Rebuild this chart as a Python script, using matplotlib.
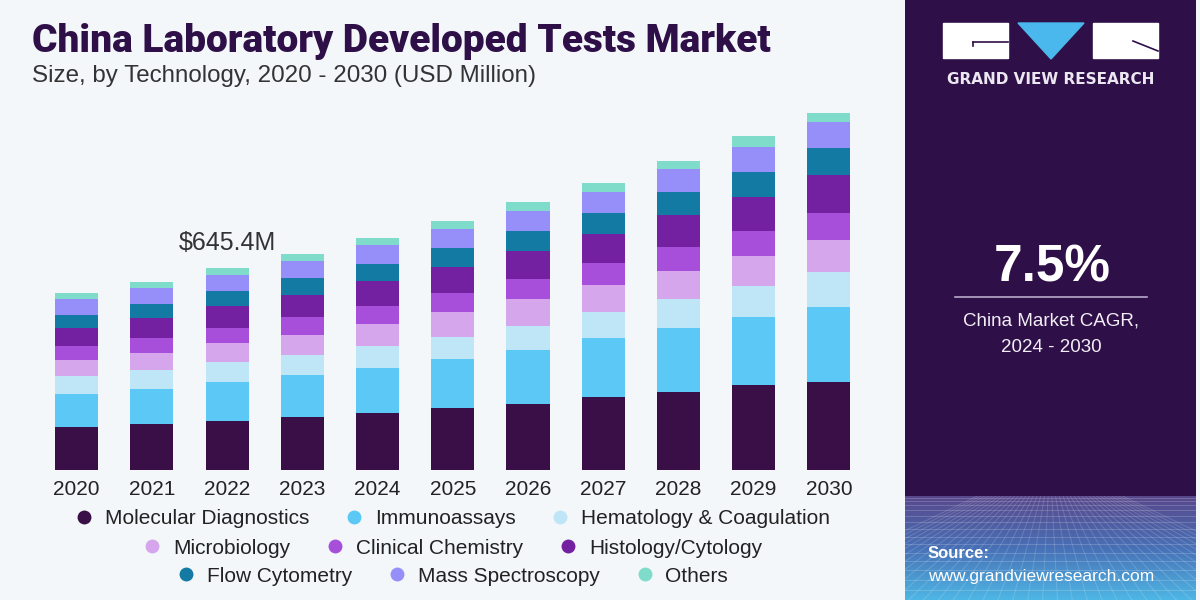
import numpy as np
import matplotlib
matplotlib.use('Agg')
import matplotlib.pyplot as plt
from matplotlib import font_manager as fm
from matplotlib.lines import Line2D
from matplotlib.patches import Rectangle, Polygon

# ---------------- data (USD Million) ----------------
years = ['2020', '2021', '2022', '2023', '2024', '2025', '2026', '2027', '2028', '2029', '2030']
segments = ['Molecular Diagnostics', 'Immunoassays', 'Hematology & Coagulation',
            'Microbiology', 'Clinical Chemistry', 'Histology/Cytology',
            'Flow Cytometry', 'Mass Spectroscopy', 'Others']
molecular    = [138.7, 147.2, 156.8, 168.6, 181.4, 197.4, 211.2, 232.6, 248.6, 272.0, 282.7]
immunoassays = [104.5, 112.0, 125.9, 134.4, 146.2, 156.8, 172.8, 188.8, 204.8, 216.6, 237.9]
hematology   = [57.6, 60.8, 62.9, 65.1, 70.4, 72.5, 77.9, 85.3, 93.9, 100.3, 114.1]
microbiology = [51.2, 55.5, 59.7, 64.0, 68.3, 80.0, 85.3, 85.3, 89.6, 96.0, 101.3]
clinical     = [45.9, 45.9, 50.1, 58.7, 58.7, 58.7, 64.0, 69.3, 77.9, 80.0, 85.3]
histology    = [55.5, 64.0, 69.3, 69.3, 80.0, 85.3, 90.7, 92.8, 101.3, 109.9, 121.6]
flow         = [42.7, 45.9, 48.0, 55.5, 53.3, 58.7, 64.0, 69.3, 74.7, 80.0, 86.4]
mass         = [51.2, 52.3, 51.2, 53.3, 61.9, 60.8, 62.9, 67.2, 71.5, 80.0, 83.2]
others       = [18.1, 19.2, 21.5, 21.3, 21.3, 27.7, 28.8, 28.8, 26.7, 34.1, 28.8]
series = [molecular, immunoassays, hematology, microbiology, clinical,
          histology, flow, mass, others]
colors = ['#3a0f47', '#5bc8f5', '#bfe6f7', '#d5a6ec', '#a74fda',
          '#7321a0', '#137aa3', '#968ffa', '#7fdccb']
highlight_year = '2022'
highlight_label = '$645.4M'
cagr = '7.5%'

# ---------------- fonts ----------------
names = {f.name for f in fm.fontManager.ttflist}
def pick(*cands):
    for c in cands:
        if c in names:
            return c
    return 'DejaVu Sans'
SANS = pick('Liberation Sans', 'Roboto', 'DejaVu Sans')
HEAVY = pick('Roboto', 'Lato', 'Liberation Sans')

W, H = 1200, 600
fig = plt.figure(figsize=(12, 6), dpi=100)
fig.patch.set_facecolor('#f3f7fa')

def fx(px): return px / W
def fy(py): return 1 - py / H

# ---------------- main chart ----------------
ax = fig.add_axes([fx(39), fy(470), fx(866.5) - fx(39), (470 - 100) / H])
ax.set_facecolor('none')
x = np.arange(len(years))
bottom = np.zeros(len(years))
for vals, col, name in zip(series, colors, segments):
    ax.bar(x, vals, width=0.573, bottom=bottom, color=col, linewidth=0, label=name)
    bottom += np.array(vals)
ax.set_xlim(-0.5, len(years) - 0.5)
ax.set_ylim(0, 1184)
for s in ax.spines.values():
    s.set_visible(False)
ax.set_yticks([])
ax.set_xticks(x, years)
ax.tick_params(axis='x', length=0, pad=7, labelsize=15, labelcolor='#222222')
for t in ax.get_xticklabels():
    t.set_fontfamily(SANS)

hi = years.index(highlight_year)
ax.annotate(highlight_label, xy=(x[hi], bottom[hi]), xytext=(0, 18.5),
            textcoords='offset points', ha='center', va='center',
            fontsize=18, color='#333333', family=SANS)

# ---------------- titles ----------------
fig.text(fx(32), fy(52), 'China Laboratory Developed Tests Market',
         fontsize=28, fontweight=900, color='#2e0f48', family=HEAVY, va='baseline')
fig.text(fx(32), fy(82), 'Size, by Technology, 2020 - 2030 (USD Million)',
         fontsize=17.4, color='#333333', family=SANS, va='baseline')

# ---------------- legend (three centred rows) ----------------
rows = [[0, 1, 2], [3, 4, 5], [6, 7, 8]]
row_y = [519, 548, 576]
for r, yy in zip(rows, row_y):
    handles = [Line2D([], [], marker='o', linestyle='none', markersize=10,
                      markerfacecolor=colors[i], markeredgewidth=0) for i in r]
    leg = fig.legend(handles, [segments[i] for i in r], loc='center',
                     bbox_to_anchor=(fx(452), fy(yy)), ncol=3, frameon=False,
                     handlelength=1.0, handletextpad=0.5, columnspacing=1.65,
                     borderpad=0, borderaxespad=0,
                     prop={'family': SANS, 'size': 15})
    for t in leg.get_texts():
        t.set_color('#222222')

# ---------------- right panel ----------------
axr = fig.add_axes([fx(905), 0, fx(1196) - fx(905), 1])
axr.set_xlim(905, 1196)
axr.set_ylim(600, 0)
axr.axis('off')
axr.add_patch(Rectangle((905, 0), 291, 600, color='#2f0f48', zorder=0))

# gradient base with a light perspective grid
top_c = np.array([88, 72, 140]) / 255
mid_c = np.array([72, 112, 182]) / 255
bot_c = np.array([78, 182, 228]) / 255
n = 120
t = np.linspace(0, 1, n)[:, None]
grad = np.where(t < 0.5, top_c + (mid_c - top_c) * (t / 0.5),
                mid_c + (bot_c - mid_c) * ((t - 0.5) / 0.5))
axr.imshow(grad[:, None, :], extent=(905, 1196, 600, 496), aspect='auto', zorder=1)
clip = Rectangle((905, 496), 291, 104, transform=axr.transData)
for k in range(1, 16):
    yy = 496 + 104 * (k / 15) ** 1.5
    ln, = axr.plot([905, 1196], [yy, yy], color='white', alpha=0.18, lw=0.7, zorder=2)
    ln.set_clip_path(clip)
for xb in np.linspace(760, 1340, 40):
    ln, = axr.plot([1050 + (xb - 1050) * 0.25, xb], [496, 600], color='white',
                   alpha=0.16, lw=0.7, zorder=2)
    ln.set_clip_path(clip)

# logo
axr.add_patch(Rectangle((943, 23), 65, 35, color='white', zorder=3))
axr.add_patch(Rectangle((1093, 23), 65, 35, color='white', zorder=3))
axr.add_patch(Polygon([(1018, 23), (1084, 23), (1051, 59)], closed=True,
                      color='#4ab8ec', zorder=3))
axr.plot([973, 1008], [42, 42], color='#2f0f48', lw=1.2, zorder=4)
axr.plot([973, 973], [42, 46], color='#2f0f48', lw=1.2, zorder=4)
axr.plot([1133, 1158], [41, 51], color='#2f0f48', lw=1.2, zorder=4)
axr.text(1051, 79, 'GRAND VIEW RESEARCH', ha='center', va='center',
         fontsize=11, fontweight='bold', color='#ece8f2', family='DejaVu Sans', zorder=4)

axr.text(1052, 268, cagr, ha='center', va='center', fontsize=37,
         fontweight='bold', color='white', family=SANS, zorder=4)
axr.plot([955, 1147], [297, 297], color='#b8a8cc', lw=1.2, zorder=4)
axr.text(1051, 321, 'China Market CAGR,', ha='center', va='center',
         fontsize=13.5, color='#f2eef6', family=SANS, zorder=4)
axr.text(1051, 347, '2024 - 2030', ha='center', va='center',
         fontsize=13.5, color='#f2eef6', family=SANS, zorder=4)
axr.text(928, 553, 'Source:', ha='left', va='center', fontsize=12,
         fontweight='bold', color='white', family=SANS, zorder=4)
axr.text(928, 577, 'www.grandviewresearch.com', ha='left', va='center',
         fontsize=12.5, color='white', family=SANS, zorder=4)

fig.savefig('out.png', dpi=100, facecolor=fig.get_facecolor())
